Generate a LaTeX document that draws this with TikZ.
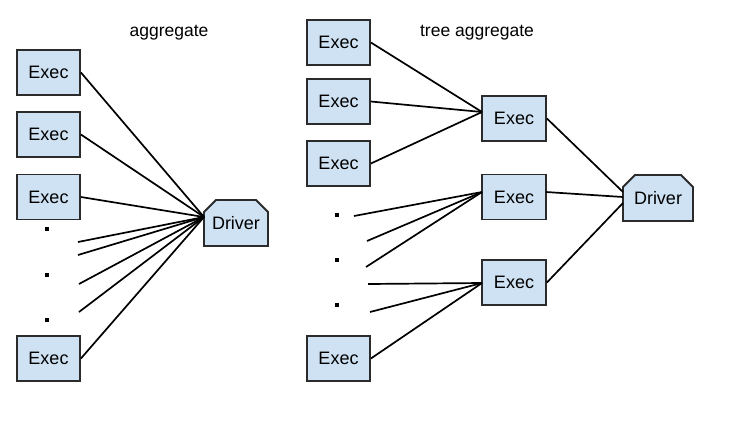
\documentclass[tikz,border=0pt]{standalone}
\usepackage{fontspec}
\setmainfont{Liberation Sans}
\usetikzlibrary{shapes.misc,calc}
\definecolor{boxfill}{HTML}{CFE2F3}
\definecolor{boxline}{HTML}{2B2B2B}
\begin{document}
\begin{tikzpicture}[x=1pt,y=-1pt,
  exec/.style={draw=boxline,fill=boxfill,line width=1.8pt,minimum width=63pt,minimum height=45pt,inner sep=0pt,font=\fontsize{18}{21}\selectfont},
  driver/.style={chamfered rectangle,chamfered rectangle corners={north east,north west},chamfered rectangle xsep=6pt,chamfered rectangle ysep=6pt,draw=boxline,fill=boxfill,line width=1.8pt,minimum height=46pt,inner sep=0pt,font=\fontsize{18}{21}\selectfont},
  ttl/.style={font=\fontsize{17.5}{21}\selectfont,inner sep=0pt},
  dotsq/.style={fill=black,minimum size=3.5pt,inner sep=0pt},
  link/.style={line width=1.7pt,black}]
\useasboundingbox (0,0) rectangle (752,424);
\fill[white] (0,0) rectangle (752,424);
% left panel
\node[ttl] (t1) at (169,33) {aggregate};
\node[exec] (e1) at (48.5,72.5) {Exec};
\node[exec] (e2) at (48.5,134.5) {Exec};
\node[exec] (e3) at (48.5,197) {Exec};
\node[exec] (e4) at (48.5,358.5) {Exec};
\node[driver,minimum width=64pt] (d) at (236,223) {Driver};
\node[dotsq] (p1) at (47,229) {};
\node[dotsq] (p2) at (47,275) {};
\node[dotsq] (p3) at (47,320) {};
\coordinate (dl) at (204,217);
\coordinate (f1) at (78,242);
\coordinate (f2) at (78,255);
\coordinate (f3) at (79,284);
\coordinate (f4) at (79,312);
\foreach \s in {e1,e2,e3,e4} \draw[link] (\s.east) -- (dl);
\foreach \s in {f1,f2,f3,f4} \draw[link] (\s) -- (dl);
% right panel
\node[ttl] (t2) at (477,33) {tree aggregate};
\node[exec] (a) at (338.5,42.5) {Exec};
\node[exec] (b) at (338.5,101.5) {Exec};
\node[exec] (c) at (338.5,163.5) {Exec};
\node[exec] (dd) at (338.5,358.5) {Exec};
\node[exec,minimum width=64pt] (m1) at (514,118.5) {Exec};
\node[exec,minimum width=64pt] (m2) at (514,197) {Exec};
\node[exec,minimum width=64pt] (m3) at (514,282.5) {Exec};
\node[driver,minimum width=70pt] (dr) at (658,198) {Driver};
\node[dotsq] (q1) at (337,215) {};
\node[dotsq] (q2) at (337,260) {};
\node[dotsq] (q3) at (337,305) {};
\coordinate (m1l) at (482,112);
\coordinate (m2l) at (482,192);
\coordinate (m3l) at (482,283);
\coordinate (m2r) at (546,192);
\coordinate (dr1) at (623,192);
\coordinate (dr2) at (623,197);
\coordinate (dr3) at (623,203);
\coordinate (g1) at (354,216);
\coordinate (g2) at (367,241);
\coordinate (g3) at (366,267);
\coordinate (g4) at (368,284);
\coordinate (g5) at (370,312);
\draw[link] (a.east) -- (m1l);
\draw[link] (b.east) -- (m1l);
\draw[link] (c.east) -- (m1l);
\draw[link] (g1) -- (m2l);
\draw[link] (g2) -- (m2l);
\draw[link] (g3) -- (m2l);
\draw[link] (g4) -- (m3l);
\draw[link] (g5) -- (m3l);
\draw[link] (dd.east) -- (m3l);
\draw[link] (m1.east) -- (dr1);
\draw[link] (m2r) -- (dr2);
\draw[link] (m3.east) -- (dr3);
\end{tikzpicture}
\end{document}
